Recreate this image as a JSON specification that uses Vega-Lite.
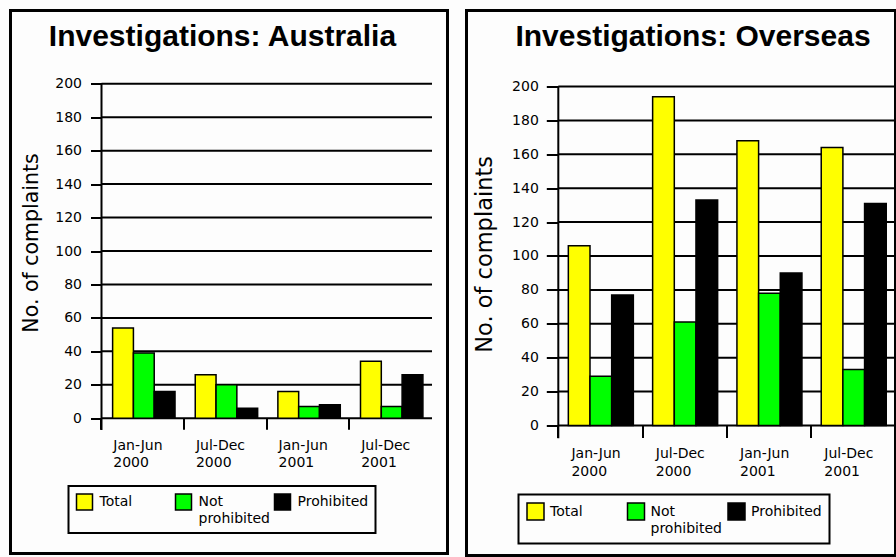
{
  "$schema": "https://vega.github.io/schema/vega-lite/v6.json",
  "background": "#fdfdfd",
  "padding": {"left": 8.5, "top": 8.5, "right": 0, "bottom": 0},
  "spacing": 15,
  "datasets": {
    "aus": [
      {"period": "Jan-Jun 2000", "series": "Total", "count": 54},
      {"period": "Jan-Jun 2000", "series": "Not prohibited", "count": 39},
      {"period": "Jan-Jun 2000", "series": "Prohibited", "count": 16},
      {"period": "Jul-Dec 2000", "series": "Total", "count": 26},
      {"period": "Jul-Dec 2000", "series": "Not prohibited", "count": 20},
      {"period": "Jul-Dec 2000", "series": "Prohibited", "count": 6},
      {"period": "Jan-Jun 2001", "series": "Total", "count": 16},
      {"period": "Jan-Jun 2001", "series": "Not prohibited", "count": 7},
      {"period": "Jan-Jun 2001", "series": "Prohibited", "count": 8},
      {"period": "Jul-Dec 2001", "series": "Total", "count": 34},
      {"period": "Jul-Dec 2001", "series": "Not prohibited", "count": 7},
      {"period": "Jul-Dec 2001", "series": "Prohibited", "count": 26}
    ],
    "ovs": [
      {"period": "Jan-Jun 2000", "series": "Total", "count": 106},
      {"period": "Jan-Jun 2000", "series": "Not prohibited", "count": 29},
      {"period": "Jan-Jun 2000", "series": "Prohibited", "count": 77},
      {"period": "Jul-Dec 2000", "series": "Total", "count": 194},
      {"period": "Jul-Dec 2000", "series": "Not prohibited", "count": 61},
      {"period": "Jul-Dec 2000", "series": "Prohibited", "count": 133},
      {"period": "Jan-Jun 2001", "series": "Total", "count": 168},
      {"period": "Jan-Jun 2001", "series": "Not prohibited", "count": 78},
      {"period": "Jan-Jun 2001", "series": "Prohibited", "count": 90},
      {"period": "Jul-Dec 2001", "series": "Total", "count": 164},
      {"period": "Jul-Dec 2001", "series": "Not prohibited", "count": 33},
      {"period": "Jul-Dec 2001", "series": "Prohibited", "count": 131}
    ],
    "grid": [{"v": 0}, {"v": 20}, {"v": 40}, {"v": 60}, {"v": 80}, {"v": 100}, {"v": 120}, {"v": 140}, {"v": 160}, {"v": 180}, {"v": 200}],
    "one": [{"k": 1}]
  },
  "resolve": {
    "scale": {"color": "independent", "xOffset": "independent", "y": "independent", "x": "independent"},
    "legend": {"color": "independent"}
  },
  "config": {
    "view": {"stroke": "black", "strokeWidth": 3},
    "axis": {
      "labelFont": "DejaVu Sans", "labelFontSize": 14, "labelColor": "black",
      "tickColor": "black", "tickWidth": 2, "grid": false, "domain": false,
      "titleFont": "DejaVu Sans", "titleFontWeight": "normal", "titleColor": "black",
      "labelOverlap": false, "labelFlush": false
    },
    "legend": {
      "orient": "none", "direction": "horizontal", "columns": 3, "gridAlign": "all",
      "strokeColor": "black", "strokeWidth": 2, "fillColor": "#fdfdfd",
      "symbolType": "square", "symbolStrokeColor": "black", "symbolStrokeWidth": 1.5, "symbolOpacity": 1,
      "labelFont": "DejaVu Sans", "labelFontSize": 14, "labelColor": "black", "labelBaseline": "alphabetic", "labelLimit": 200
    },
    "title": {"font": "Liberation Sans", "fontSize": 30, "fontWeight": "bold", "color": "black", "anchor": "middle", "frame": "group", "baseline": "alphabetic"}
  },
  "hconcat": [
    {
      "width": 437,
      "height": 543,
      "title": {"text": "Investigations: Australia", "offset": -41.5, "dx": -6.5},
      "resolve": {"scale": {"x": "independent"}, "axis": {"x": "independent", "y": "independent"}},
      "layer": [
        {
          "data": {"name": "grid"},
          "mark": {"type": "rule", "color": "black", "strokeWidth": 2},
          "encoding": {
            "x": {"datum": 0, "type": "quantitative", "scale": {"domain": [-1.1014, 4.1876], "nice": false, "zero": false}, "axis": null},
            "x2": {"datum": 4},
            "y": {"field": "v", "type": "quantitative", "scale": {"domain": [-80.92, 243.84], "nice": false, "zero": false}, "axis": null}
          }
        },
        {
          "data": {"name": "aus"},
          "mark": {"type": "bar", "stroke": "black", "strokeWidth": 1.5},
          "encoding": {
            "x": {
              "field": "period", "type": "nominal",
              "sort": ["Jan-Jun 2000", "Jul-Dec 2000", "Jan-Jun 2001", "Jul-Dec 2001"],
              "scale": {"paddingInner": 0, "paddingOuter": 0.6444, "align": 0.8545},
              "title": null,
              "axis": {
                "orient": "bottom", "offset": -135.3, "tickSize": 11, "bandPosition": 0, "tickExtra": false,
                "labelAlign": "left", "labelOffset": -29.5, "labelBaseline": "top", "labelPadding": 9,
                "labelLineHeight": 17, "labelAngle": 0, "labelExpr": "split(datum.label, ' ')"
              }
            },
            "xOffset": {
              "field": "series", "type": "nominal",
              "scale": {"domain": ["Total", "Not prohibited", "Prohibited"], "paddingInner": 0, "paddingOuter": 0.486, "align": 0.55}
            },
            "y": {
              "field": "count", "type": "quantitative",
              "scale": {"domain": [-80.92, 243.84], "nice": false, "zero": false},
              "title": "No. of complaints",
              "axis": {
                "orient": "left", "offset": -91, "values": [0, 20, 40, 60, 80, 100, 120, 140, 160, 180, 200],
                "tickSize": 11, "labelPadding": 9,
                "titleFontSize": 20.5, "titleX": -60, "titleY": 232, "titleAngle": 270,
                "titleAlign": "center", "titleBaseline": "bottom"
              }
            },
            "y2": {"datum": 0},
            "color": {
              "field": "series", "type": "nominal",
              "scale": {"domain": ["Total", "Not prohibited", "Prohibited"], "range": ["#ffff00", "#00ff00", "#000000"]},
              "legend": {
                "title": null, "legendX": 58, "legendY": 475.5, "symbolSize": 256, "labelOffset": 6,
                "columnPadding": 1, "padding": 7,
                "labelExpr": "datum.label == 'Not prohibited' ? ['Not', 'prohibited'] : [datum.label, ' ']",
                "encode": {"labels": {"update": {"dy": {"value": 4}, "lineHeight": {"value": 17}}}}
              }
            }
          }
        },
        {
          "data": {"name": "one"},
          "mark": {"type": "rule", "color": "black", "strokeWidth": 2},
          "encoding": {
            "x": {"datum": 0, "type": "quantitative", "scale": {"domain": [-1.1014, 4.1876], "nice": false, "zero": false}, "axis": null},
            "y": {"datum": -7, "type": "quantitative", "axis": null},
            "y2": {"datum": 200}
          }
        }
      ]
    },
    {
      "width": 429,
      "height": 545,
      "title": {"text": "Investigations: Overseas", "offset": -41.2, "dx": 12},
      "resolve": {"scale": {"x": "independent"}, "axis": {"x": "independent", "y": "independent"}},
      "layer": [
        {
          "data": {"name": "grid"},
          "mark": {"type": "rule", "color": "black", "strokeWidth": 2},
          "encoding": {
            "x": {"datum": 0, "type": "quantitative", "scale": {"domain": [-1.089, 4.0], "nice": false, "zero": false}, "axis": null},
            "x2": {"datum": 4},
            "y": {"field": "v", "type": "quantitative", "scale": {"domain": [-76.7, 244.84], "nice": false, "zero": false}, "axis": null}
          }
        },
        {
          "data": {"name": "ovs"},
          "mark": {"type": "bar", "stroke": "black", "strokeWidth": 1.5},
          "encoding": {
            "x": {
              "field": "period", "type": "nominal",
              "sort": ["Jan-Jun 2000", "Jul-Dec 2000", "Jan-Jun 2001", "Jul-Dec 2001"],
              "scale": {"paddingInner": 0, "paddingOuter": 0.5445, "align": 1},
              "title": null,
              "axis": {
                "orient": "bottom", "offset": -130, "tickSize": 12, "bandPosition": 0, "tickExtra": false,
                "labelAlign": "left", "labelOffset": -29, "labelBaseline": "top", "labelPadding": 9,
                "labelLineHeight": 18, "labelAngle": 0, "labelExpr": "split(datum.label, ' ')"
              }
            },
            "xOffset": {
              "field": "series", "type": "nominal",
              "scale": {"domain": ["Total", "Not prohibited", "Prohibited"], "paddingInner": 0, "paddingOuter": 0.445, "align": 0.52}
            },
            "y": {
              "field": "count", "type": "quantitative",
              "scale": {"domain": [-76.7, 244.84], "nice": false, "zero": false},
              "title": "No. of complaints",
              "axis": {
                "orient": "left", "offset": -91.8, "values": [0, 20, 40, 60, 80, 100, 120, 140, 160, 180, 200],
                "tickSize": 12, "labelPadding": 8,
                "titleFontSize": 22.5, "titleX": -62, "titleY": 243.4, "titleAngle": 270,
                "titleAlign": "center", "titleBaseline": "bottom"
              }
            },
            "y2": {"datum": 0},
            "color": {
              "field": "series", "type": "nominal",
              "scale": {"domain": ["Total", "Not prohibited", "Prohibited"], "range": ["#ffff00", "#00ff00", "#000000"]},
              "legend": {
                "title": null, "legendX": 52, "legendY": 484, "symbolSize": 289, "labelOffset": 5,
                "columnPadding": 2.5, "padding": 7.5,
                "labelExpr": "datum.label == 'Not prohibited' ? ['Not', 'prohibited'] : [datum.label, ' ']",
                "encode": {"labels": {"update": {"dy": {"value": 4.5}, "lineHeight": {"value": 17}}}}
              }
            }
          }
        },
        {
          "data": {"name": "one"},
          "mark": {"type": "rule", "color": "black", "strokeWidth": 2},
          "encoding": {
            "x": {"datum": 0, "type": "quantitative", "scale": {"domain": [-1.089, 4.0], "nice": false, "zero": false}, "axis": null},
            "y": {"datum": -7.5, "type": "quantitative", "axis": null},
            "y2": {"datum": 200}
          }
        }
      ]
    }
  ]
}
